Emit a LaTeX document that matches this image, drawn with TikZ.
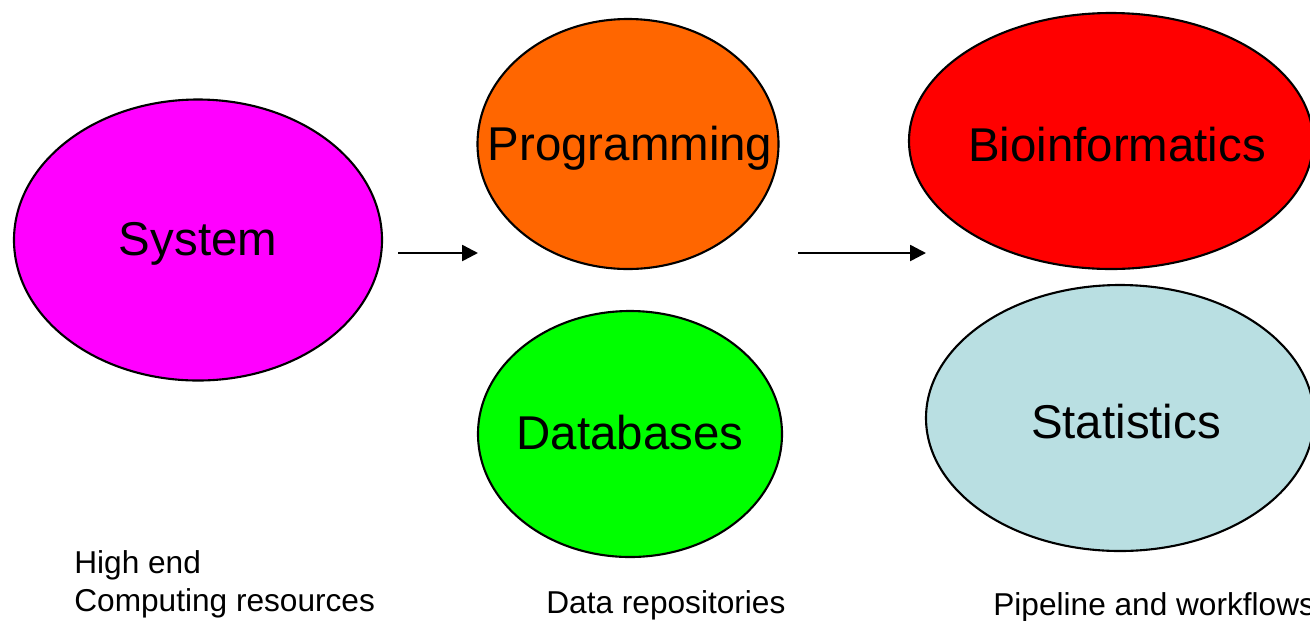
\documentclass[tikz,border=0pt]{standalone}
\usepackage{fontspec}
\setmainfont{Liberation Sans}
\usetikzlibrary{shapes.geometric,arrows.meta}
\definecolor{sysmagenta}{HTML}{FF00FF}
\definecolor{progorange}{HTML}{FF6600}
\definecolor{dbgreen}{HTML}{00FF00}
\definecolor{biored}{HTML}{FF0000}
\definecolor{statblue}{HTML}{B9DFE2}
\tikzset{
  blob/.style={ellipse, draw=black, line width=1.2pt, inner sep=0pt},
  blobtext/.style={font=\fontsize{27}{32}\selectfont, yshift=-0.08cm},
  note/.style={font=\fontsize{18}{21.6}\selectfont, inner sep=0pt, align=left},
  flow/.style={line width=1.4pt, -{Triangle[length=9pt,width=9pt]}}
}
\begin{document}
\begin{tikzpicture}[x=0.02cm, y=-0.02cm]
  \useasboundingbox (0,0) rectangle (1310,620);
  \clip (0,0) rectangle (1310,620);
  \node[blob, fill=sysmagenta, minimum width=368*0.02cm, minimum height=281*0.02cm,
        label={[blobtext]center:System}] (system) at (198,240) {};
  \node[blob, fill=progorange, minimum width=301*0.02cm, minimum height=250*0.02cm,
        label={[blobtext, xshift=0.04cm]center:Programming}] (prog) at (628,144) {};
  \node[blob, fill=dbgreen, minimum width=304*0.02cm, minimum height=246*0.02cm,
        label={[blobtext, yshift=0.1cm]center:Databases}] (db) at (630,434) {};
  \node[blob, fill=biored, minimum width=404*0.02cm, minimum height=256*0.02cm,
        label={[blobtext, xshift=0.12cm]center:Bioinformatics}] (bio) at (1111,141) {};
  \node[blob, fill=statblue, minimum width=388*0.02cm, minimum height=266*0.02cm,
        label={[blobtext, xshift=0.12cm]center:Statistics}] (stat) at (1120,418) {};
  % arrows between the columns
  \coordinate (arrA) at (398,253);  \coordinate (arrB) at (478,253);
  \coordinate (arrC) at (798,253);  \coordinate (arrD) at (926,253);
  \draw[flow] (arrA) -- (arrB);
  \draw[flow] (arrC) -- (arrD);
  % notes below
  \node[note, anchor=north west] (hpc) at (74,550) {High end\\Computing resources};
  \node[note, anchor=west] (repo) at (546,605) {Data repositories};
  \node[note, anchor=west] (pipe) at (993,607) {Pipeline and workflows};
\end{tikzpicture}
\end{document}
